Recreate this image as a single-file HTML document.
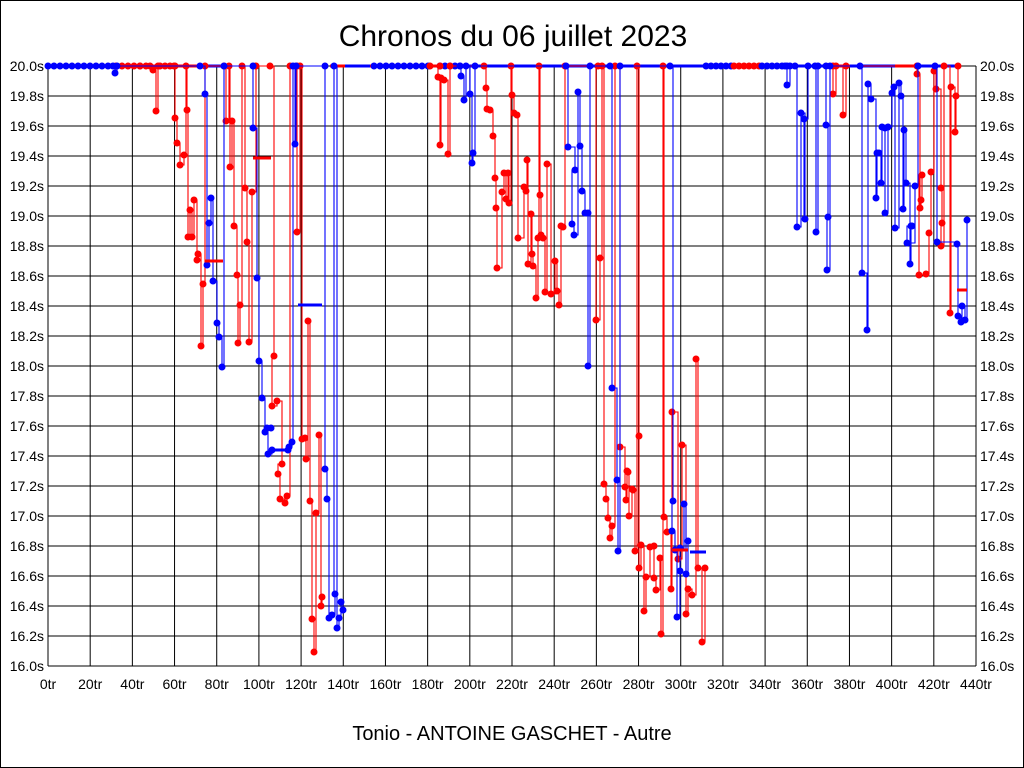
<!DOCTYPE html>
<html><head><meta charset="utf-8"><style>
body{margin:0;background:#fff}
svg{display:block}
text{font-family:"Liberation Sans",sans-serif;fill:#000}
</style></head><body>
<svg id="s" width="1024" height="768" xmlns="http://www.w3.org/2000/svg">
<rect x="0.5" y="0.5" width="1023" height="767" fill="#fff" stroke="#000"/>
<text x="513" y="46" font-size="30" text-anchor="middle">Chronos du 06 juillet 2023</text>
<text x="512" y="740" font-size="20" text-anchor="middle">Tonio - ANTOINE GASCHET - Autre</text>
<g id="grid"></g>
<g id="data"></g>
</svg>
<script>
var NS="http://www.w3.org/2000/svg",s=document.getElementById('s'),g=document.getElementById('grid'),d=document.getElementById('data');
function el(p,t,a,txt){var e=document.createElementNS(NS,t);for(var k in a)e.setAttribute(k,a[k]);if(txt!=null)e.textContent=txt;p.appendChild(e);return e;}
var X0=48,X1=976,Y0=66,Y1=666;
for(var i=0;i<=22;i++){var x=X0+(X1-X0)*i/22;el(g,'line',{x1:x,x2:x,y1:Y0,y2:Y1,stroke:'#000','stroke-width':1});
 el(g,'text',{x:x,y:689,'font-size':14,'text-anchor':'middle'},(i*20)+'tr');}
for(var j=0;j<=20;j++){var y=Y0+30*j;el(g,'line',{x1:X0,x2:X1,y1:y,y2:y,stroke:'#000','stroke-width':1});
 var v=(20-j*0.2).toFixed(1)+'s';
 el(g,'text',{x:44,y:y+5,'font-size':14,'text-anchor':'end'},v);
 el(g,'text',{x:980,y:y+5,'font-size':14},v);}
function series(pts,col){var p='M'+pts[0][0]+' '+pts[0][1];for(var i=1;i<pts.length;i++){p+=' H'+pts[i][0]+' V'+pts[i][1];}
 el(d,'path',{d:p,fill:'none',stroke:col,'stroke-width':1.1});
 pts.forEach(function(q){el(d,'circle',{cx:q[0],cy:q[1],r:3.5,fill:col});});}
function dash(x1,x2,y,col){el(d,'line',{x1:x1,x2:x2,y1:y,y2:y,stroke:col,'stroke-width':3});}
function topdots(x1,x2,step,col){for(var x=x1;x<=x2;x+=step)el(d,'circle',{cx:x,cy:66,r:3.5,fill:col});}
dash(48,155,66,'#00f');dash(110,205,66,'#f00');dash(205,230,66,'#00f');dash(330,345,66,'#f00');dash(345,430,66,'#00f');dash(370,440,66,'#f00');dash(440,600,66,'#00f');dash(600,700,66,'#00f');dash(700,780,66,'#00f');dash(725,790,66,'#f00');dash(790,960,66,'#00f');dash(825,850,66,'#f00');dash(895,915,66,'#f00');
topdots(48,112,6,'#00f');topdots(116,150,6,'#f00');topdots(160,175,5,'#f00');topdots(374,430,6,'#00f');topdots(706,732,5,'#00f');topdots(734,760,5,'#f00');topdots(762,790,5,'#00f');topdots(440,460,5,'#00f');
var R1=[[140,66],[150,66],[153,70],[156,111],[158,66],[174,66],[175,118],[177,143],[180,165],[184,155],[186,66],[187,110],[188,237],[190,210],[192,237],[194,200],[197,260],[198,254],[201,346],[203,284],[205,66],[224,66],[226,121],[229,66],[230,167],[232,121],[234,226],[237,275],[238,343],[240,305],[242,66],[245,188],[247,242],[249,342],[252,192],[256,66],[270,66],[274,356],[272,406],[277,401],[282,464],[278,474],[280,499],[285,503],[287,496],[290,66],[297,66],[297,232],[300,66],[302,439],[305,438],[306,459],[308,321],[310,501],[312,619],[314,652],[316,513],[319,435],[321,606],[322,597]];
var R2=[[430,66],[440,66],[438,77],[440,145],[441,78],[444,80],[448,154],[450,66],[484,66],[486,88],[487,109],[490,110],[493,136],[495,178],[496,208],[497,268],[502,192],[504,173],[506,199],[508,173],[509,203],[511,66],[512,95],[514,113],[517,115],[518,238],[524,187],[526,191],[527,160],[528,264],[531,214],[532,254],[533,266],[536,298],[538,238],[539,66],[540,195],[541,235],[543,238],[545,292],[547,164],[551,294],[555,261],[557,291],[559,305],[561,226],[563,227],[565,66],[598,66],[596,320],[600,258],[602,66],[604,484],[606,499],[608,518],[610,538],[612,526],[615,66],[620,447],[625,487],[626,500],[627,471],[628,472],[629,516],[632,489],[633,490],[635,551],[637,66],[639,436],[639,568],[641,545],[644,611],[646,577],[650,547],[654,546],[654,578],[656,590],[660,558],[661,634],[663,66],[664,517],[667,532],[671,589],[672,412],[678,559],[682,445],[686,614],[688,589],[692,595],[696,359],[698,568],[702,642],[705,568]];
var R3=[[833,66],[833,94],[836,66],[843,115],[846,66],[917,66],[917,74],[920,208],[921,200],[922,175],[919,275],[926,274],[929,233],[931,172],[934,71],[936,89],[941,188],[942,223],[941,246],[944,66],[950,313],[951,87],[955,132],[956,96],[958,66]];
var B1=[[113,66],[115,73],[117,66],[200,66],[205,94],[207,265],[209,223],[211,198],[213,281],[217,323],[219,337],[222,367],[224,66],[253,66],[253,128],[257,278],[259,361],[262,398],[265,432],[267,428],[271,428],[268,454],[272,450],[288,450],[289,447],[292,442],[293,66],[295,144],[296,66],[325,66],[325,469],[327,499],[329,618],[332,615],[335,594],[334,66],[337,628],[339,618],[341,602],[343,610]];
var B2=[[460,66],[461,76],[464,100],[466,66],[470,94],[472,163],[473,153],[475,66],[566,66],[568,147],[575,170],[572,224],[574,235],[578,92],[580,146],[582,191],[585,213],[588,213],[588,366],[590,66],[610,66],[612,388],[617,480],[618,551],[620,66],[670,66],[673,501],[672,531],[675,550],[677,617],[680,571],[680,548],[684,504],[686,574],[688,541]];
var B3=[[785,66],[787,85],[790,66],[795,66],[797,227],[801,113],[805,219],[804,119],[808,66],[815,66],[816,232],[818,66],[826,66],[826,125],[828,217],[827,270],[830,66],[860,66],[862,273],[867,330],[868,84],[871,99],[876,198],[877,153],[879,153],[881,183],[882,127],[885,128],[885,213],[888,127],[892,93],[894,87],[895,228],[899,83],[901,96],[903,209],[904,130],[906,183],[910,264],[911,226],[912,226],[907,243],[915,186],[918,66],[935,66],[937,242],[957,244],[958,316],[961,322],[962,306],[965,320],[967,220]];
series(R1,'#f00');series(R2,'#f00');series(R3,'#f00');
series(B1,'#00f');series(B2,'#00f');series(B3,'#00f');
dash(205,223,261,'#f00');dash(253,271,158,'#f00');dash(298,322,305,'#00f');dash(272,288,450,'#00f');
dash(672,688,550,'#f00');dash(690,706,552,'#00f');dash(957,967,290,'#f00');
</script>
</body></html>
